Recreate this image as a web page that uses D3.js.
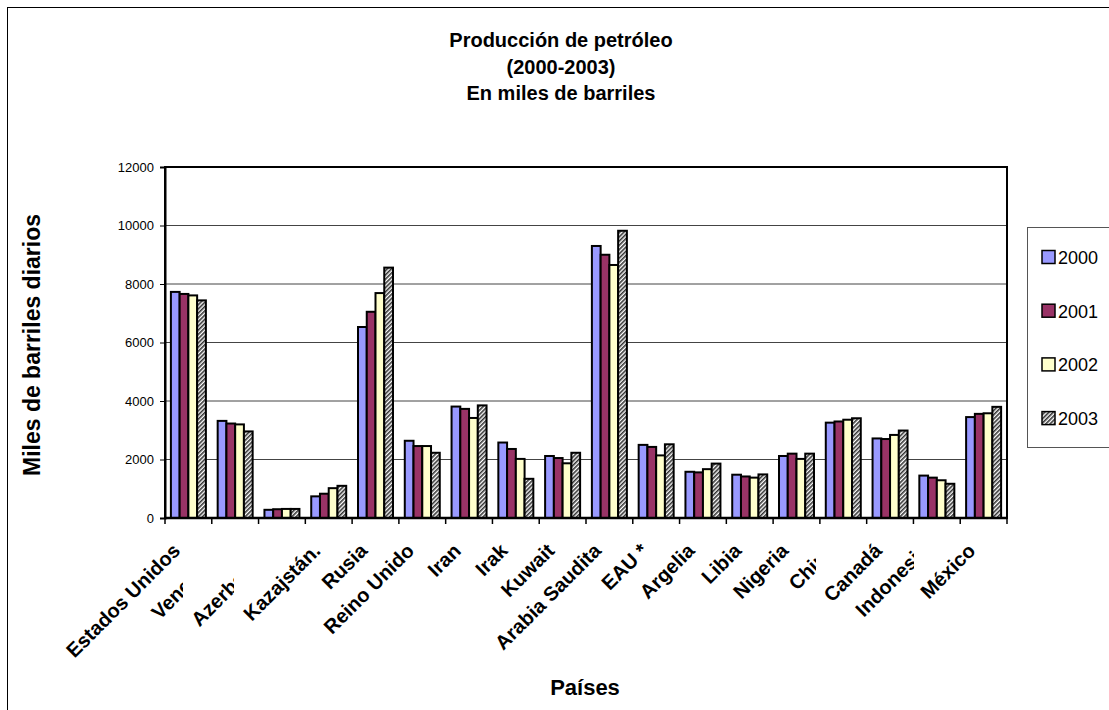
<!DOCTYPE html>
<html lang="es">
<head>
    <meta charset="UTF-8">
    <title>Producción de petróleo</title>
    <script src="https://d3js.org/d3.v7.min.js"></script>
    <style>
        body { margin: 0; background: #fff; }
        svg { display: block; font-family: "Liberation Sans", Arial, sans-serif; }
    </style>
</head>
<body>
    <svg width="1109" height="710"></svg>
    <script>
        // Datos (miles de barriles diarios)
        const paises = ["Estados Unidos", "Venezuela", "Azerbaiyán", "Kazajstán.", "Rusia", "Reino Unido",
            "Iran", "Irak", "Kuwait", "Arabia Saudita", "EAU *", "Argelia", "Libia", "Nigeria",
            "China", "Canadá", "Indonesia", "México"];
        const anios = ["2000", "2001", "2002", "2003"];
        const v2000 = [7730, 3320, 280, 740, 6530, 2640, 3810, 2580, 2120, 9300, 2500, 1580, 1480, 2120, 3260, 2720, 1450, 3450];
        const v2001 = [7660, 3230, 300, 830, 7050, 2460, 3730, 2360, 2050, 9000, 2430, 1560, 1420, 2200, 3300, 2700, 1380, 3560];
        const v2002 = [7610, 3200, 310, 1020, 7690, 2460, 3420, 2020, 1870, 8650, 2140, 1670, 1380, 2020, 3360, 2840, 1290, 3580];
        const v2003 = [7440, 2960, 310, 1100, 8560, 2230, 3850, 1340, 2230, 9820, 2520, 1860, 1490, 2200, 3410, 2990, 1170, 3800];
        const yTicks = [0, 2000, 4000, 6000, 8000, 10000, 12000];

        const series = [v2000, v2001, v2002, v2003];
        const colores = ["#9999ff", "#993366", "#ffffcc", "url(#rayado)"];

        const svg = d3.select("svg");
        const margin = {top: 167, right: 102, bottom: 192, left: 165};
        const width = 1109, height = 710;

        // patrón rayado para 2003
        const defs = svg.append("defs");
        const pat = defs.append("pattern")
            .attr("id", "rayado")
            .attr("width", 3).attr("height", 3)
            .attr("patternUnits", "userSpaceOnUse")
            .attr("patternTransform", "rotate(45)");
        pat.append("rect").attr("width", 3).attr("height", 3).attr("fill", "#fff");
        pat.append("rect").attr("width", 1.6).attr("height", 3).attr("fill", "#333");

        // borde exterior
        svg.append("rect")
            .attr("x", 7.5).attr("y", 7.5)
            .attr("width", 1120).attr("height", 720)
            .attr("fill", "none").attr("stroke", "#000");

        // Título
        const titulo = ["Producción de petróleo", "(2000-2003)", "En miles de barriles"];
        svg.append("g").selectAll("text")
            .data(titulo)
            .join("text")
            .attr("x", 561)
            .attr("y", (d, i) => 47 + i * 26.5)
            .attr("text-anchor", "middle")
            .attr("font-weight", "bold")
            .attr("font-size", 20)
            .text(d => d);

        // Escalas
        const x = d3.scaleBand()
            .domain(paises)
            .range([margin.left, width - margin.right])
            .paddingInner(0.252)
            .paddingOuter(0.126);

        const xSub = d3.scaleBand()
            .domain(d3.range(series.length))
            .range([0, x.bandwidth()]);

        const y = d3.scaleLinear()
            .domain([0, 12000])
            .range([height - margin.bottom, margin.top]);

        // líneas de cuadrícula
        svg.append("g").selectAll("line")
            .data(yTicks.filter(d => d > 0 && d < 12000))
            .join("line")
            .attr("x1", margin.left).attr("x2", width - margin.right)
            .attr("y1", d => y(d)).attr("y2", d => y(d))
            .attr("stroke", "#444").attr("stroke-width", 1);

        // Barras
        const grupos = svg.append("g").selectAll("g")
            .data(paises)
            .join("g")
            .attr("transform", d => `translate(${x(d)},0)`);

        grupos.selectAll("rect")
            .data((d, i) => series.map((s, k) => ({k: k, v: s[i]})))
            .join("rect")
            .attr("x", d => xSub(d.k))
            .attr("y", d => y(d.v))
            .attr("width", xSub.bandwidth())
            .attr("height", d => y(0) - y(d.v))
            .attr("fill", d => colores[d.k])
            .attr("stroke", "#000")
            .attr("stroke-width", 2);

        // marco del área del gráfico
        svg.append("rect")
            .attr("x", margin.left).attr("y", margin.top)
            .attr("width", width - margin.right - margin.left)
            .attr("height", height - margin.bottom - margin.top)
            .attr("fill", "none").attr("stroke", "#000").attr("stroke-width", 2);

        // Eje Y
        const yAxis = svg.append("g")
            .attr("transform", `translate(${margin.left},0)`)
            .call(d3.axisLeft(y).tickValues(yTicks).tickSize(5).tickPadding(6).tickFormat(d3.format("d")));
        yAxis.select(".domain").attr("stroke-width", 2);
        yAxis.selectAll("text").attr("font-size", 13).attr("font-family", "Liberation Sans, Arial, sans-serif");

        // Eje X (marcas entre categorías)
        const bordes = paises.map(p => x(p) - x.step() * 0.126).concat([width - margin.right]);
        svg.append("g").selectAll("line")
            .data(bordes)
            .join("line")
            .attr("x1", d => d).attr("x2", d => d)
            .attr("y1", y(0)).attr("y2", y(0) + 6)
            .attr("stroke", "#000").attr("stroke-width", 1.5);
        svg.append("line")
            .attr("x1", margin.left).attr("x2", width - margin.right)
            .attr("y1", y(0)).attr("y2", y(0))
            .attr("stroke", "#000").attr("stroke-width", 2.5);

        // recortes de etiquetas tapadas en el original
        const recorte = {1: 183, 2: 234, 14: 816, 16: 914};
        Object.entries(recorte).forEach(([i, lim]) => {
            defs.append("clipPath").attr("id", "clip" + i)
                .append("rect").attr("x", 0).attr("y", 0).attr("width", lim).attr("height", height);
        });

        svg.append("g").selectAll("g")
            .data(paises)
            .join("g")
            .attr("clip-path", (d, i) => recorte[i] ? `url(#clip${i})` : null)
            .append("text")
            .attr("transform", d => `translate(${x(d) + x.bandwidth() / 2 - 7},552) rotate(-45)`)
            .attr("text-anchor", "end")
            .attr("font-weight", "bold")
            .attr("font-size", 20)
            .text(d => d);

        // títulos de ejes
        svg.append("text")
            .attr("x", 585).attr("y", 695)
            .attr("text-anchor", "middle")
            .attr("font-weight", "bold").attr("font-size", 22)
            .text("Países");

        svg.append("text")
            .attr("transform", "translate(40,345) rotate(-90)")
            .attr("text-anchor", "middle")
            .attr("font-weight", "bold").attr("font-size", 23)
            .text("Miles de barriles diarios");

        // Leyenda
        const leyenda = svg.append("g");
        leyenda.append("rect")
            .attr("x", 1027.5).attr("y", 227.5)
            .attr("width", 100).attr("height", 220)
            .attr("fill", "#fff").attr("stroke", "#555");
        const item = leyenda.selectAll("g")
            .data(anios)
            .join("g")
            .attr("transform", (d, i) => `translate(1042,${257 + i * 53.7})`);
        item.append("rect")
            .attr("x", 0).attr("y", -6.5)
            .attr("width", 13).attr("height", 13)
            .attr("fill", (d, i) => colores[i])
            .attr("stroke", "#000").attr("stroke-width", 1.5);
        item.append("text")
            .attr("x", 16).attr("y", 7)
            .attr("font-size", 18)
            .text(d => d);
    </script>
</body>
</html>
